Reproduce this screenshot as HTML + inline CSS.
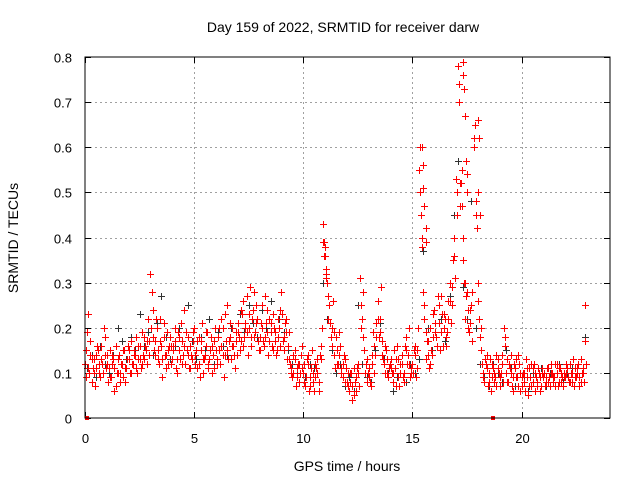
<!DOCTYPE html>
<html><head><meta charset="utf-8">
<style>
html,body{margin:0;padding:0;background:#fff;}
svg{display:block;font-family:"Liberation Sans",sans-serif;}
</style></head>
<body>
<svg id="chart" width="640" height="480" viewBox="0 0 640 480">
<text x="343" y="32" text-anchor="middle" font-size="14">Day 159 of 2022, SRMTID for receiver darw</text>
<text x="347" y="471" text-anchor="middle" font-size="14">GPS time / hours</text>
<text transform="translate(18,238) rotate(-90)" text-anchor="middle" font-size="14">SRMTID / TECUs</text>
<g id="grid"></g>
<g id="ticks"></g>
<g id="marks"></g>
<rect x="85" y="57" width="525" height="361" fill="none" stroke="#000" stroke-width="1"/>
</svg>
<script>
const xTicks=[0,5,10,15,20];
const yTicks=[0,0.1,0.2,0.3,0.4,0.5,0.6,0.7,0.8];
const redA=[0.12,0.19,0.10,0.08,0.13,0.11,0.15,0.09,0.12,0.18,
0.14,0.11,0.09,0.13,0.16,0.10,0.08,0.12,0.15,0.11,
0.13,0.17,0.12,0.14,0.10,0.16,0.19,0.13,0.15,0.22,
0.32,0.18,0.14,0.20,0.12,0.16,0.21,0.11,0.15,0.18,
0.13,0.17,0.10,0.15,0.21,0.14,0.12,0.18,0.16,0.13,
0.20,0.15,0.12,0.17,0.10,0.14,0.19,0.13,0.16,0.11,
0.15,0.18,0.12,0.20,0.14,0.25,0.17,0.13,0.16,0.19,
0.21,0.15,0.23,0.18,0.27,0.20,0.16,0.24,0.19,0.22,
0.18,0.25,0.16,0.21,0.14,0.19,0.23,0.17,0.15,0.20,
0.28,0.18,0.22,0.16,0.12,0.09,0.13,0.11,0.08,0.14,
0.10,0.07,0.12,0.09,0.15,0.06,0.11,0.08,0.13,0.43,
0.38,0.30,0.25,0.20,0.14,0.18,0.12,0.16,0.09,0.13,
0.08,0.06,0.10,0.05,0.09,0.12,0.31,0.22,0.15,0.08,
0.11,0.07,0.19,0.14,0.26,0.22,0.17,0.12,0.15,0.09,
0.13,0.08,0.11,0.16,0.07,0.12,0.10,0.18,0.14,0.09,
0.12,0.16,0.11,0.55,0.45,0.28,0.13,0.17,0.20,0.14,
0.24,0.18,0.21,0.27,0.16,0.22,0.19,0.30,0.25,0.40,
0.53,0.78,0.47,0.35,0.22,0.28,0.19,0.25,0.60,0.48,
0.30,0.18,0.12,0.08,0.14,0.10,0.06,0.11,0.09,0.13,
0.07,0.12,0.20,0.10,0.08,0.14,0.06,0.11,0.09,0.12,
0.07,0.10,0.13,0.05,0.09,0.11,0.06,0.08,0.10,0.07,
0.09,0.08,0.11,0.07,0.10,0.09,0.12,0.08,0.10,0.07,
0.09,0.11,0.08,0.10,0.07,0.09,0.12,0.08,0.10,0.25];
const redB=[0.09,0.23,0.14,0.11,0.07,0.16,0.10,0.13,0.20,0.11,
0.08,0.15,0.12,0.06,0.10,0.14,0.12,0.09,0.11,0.16,
0.10,0.12,0.15,0.18,0.13,0.11,0.14,0.16,0.12,0.17,
0.28,0.15,0.22,0.13,0.17,0.09,0.14,0.19,0.16,0.12,
0.16,0.11,0.19,0.13,0.17,0.24,0.15,0.11,0.14,0.19,
0.12,0.17,0.09,0.21,0.13,0.16,0.11,0.18,0.14,0.20,
0.12,0.15,0.22,0.09,0.17,0.13,0.21,0.16,0.11,0.14,
0.18,0.24,0.16,0.20,0.14,0.29,0.22,0.18,0.25,0.15,
0.21,0.17,0.27,0.19,0.22,0.16,0.20,0.14,0.18,0.24,
0.17,0.21,0.13,0.19,0.10,0.14,0.07,0.12,0.10,0.16,
0.08,0.13,0.06,0.11,0.08,0.12,0.10,0.14,0.20,0.36,
0.32,0.22,0.18,0.26,0.11,0.15,0.19,0.10,0.14,0.11,
0.07,0.10,0.04,0.08,0.11,0.07,0.25,0.18,0.12,0.10,
0.08,0.14,0.10,0.21,0.18,0.29,0.13,0.16,0.10,0.12,
0.10,0.15,0.07,0.13,0.10,0.09,0.16,0.12,0.20,0.11,
0.15,0.09,0.20,0.60,0.38,0.22,0.17,0.11,0.15,0.23,
0.19,0.27,0.15,0.23,0.20,0.16,0.26,0.21,0.35,0.31,
0.45,0.70,0.55,0.30,0.27,0.20,0.24,0.17,0.65,0.42,
0.22,0.15,0.09,0.12,0.07,0.13,0.09,0.08,0.14,0.10,
0.10,0.08,0.16,0.13,0.11,0.07,0.12,0.09,0.14,0.06,
0.10,0.06,0.09,0.11,0.07,0.12,0.09,0.11,0.06,0.10,
0.07,0.11,0.09,0.10,0.08,0.12,0.07,0.11,0.09,0.10,
0.12,0.08,0.10,0.13,0.09,0.11,0.07,0.10,0.08,0.12];
const redC=[0.15,0.11,0.17,0.13,0.10,0.14,0.12,0.16,0.10,0.14,
0.12,0.09,0.14,0.11,0.07,0.13,0.10,0.15,0.08,0.13,
0.15,0.10,0.14,0.11,0.16,0.13,0.12,0.18,0.17,0.14,
0.20,0.24,0.17,0.15,0.22,0.13,0.18,0.14,0.12,0.16,
0.15,0.20,0.13,0.18,0.12,0.16,0.19,0.14,0.11,0.17,
0.14,0.11,0.18,0.15,0.13,0.19,0.12,0.15,0.10,0.17,
0.13,0.20,0.16,0.14,0.23,0.15,0.18,0.20,0.14,0.17,
0.19,0.17,0.26,0.21,0.19,0.23,0.18,0.28,0.21,0.17,
0.15,0.20,0.18,0.24,0.17,0.21,0.15,0.19,0.22,0.16,
0.23,0.15,0.19,0.13,0.11,0.10,0.15,0.09,0.12,0.11,
0.12,0.09,0.14,0.07,0.10,0.09,0.13,0.06,0.16,0.39,
0.33,0.27,0.21,0.16,0.19,0.12,0.14,0.11,0.12,0.08,
0.10,0.08,0.07,0.11,0.06,0.10,0.20,0.28,0.10,0.13,
0.09,0.12,0.16,0.18,0.22,0.19,0.14,0.10,0.13,0.11,
0.11,0.10,0.13,0.09,0.12,0.14,0.08,0.15,0.12,0.10,
0.10,0.14,0.15,0.50,0.40,0.25,0.19,0.14,0.12,0.18,
0.21,0.16,0.25,0.19,0.23,0.18,0.22,0.26,0.29,0.36,
0.50,0.74,0.52,0.40,0.30,0.24,0.21,0.28,0.62,0.45,
0.26,0.20,0.10,0.13,0.11,0.08,0.12,0.10,0.07,0.11,
0.09,0.14,0.18,0.08,0.12,0.10,0.09,0.13,0.07,0.10,
0.09,0.08,0.11,0.07,0.12,0.08,0.10,0.07,0.09,0.11,
0.10,0.09,0.08,0.12,0.09,0.07,0.10,0.11,0.08,0.09,
0.10,0.09,0.12,0.08,0.11,0.10,0.09,0.13,0.11,0.17];
const spikeT=[10.9,10.95,11.0,11.05,15.45,15.5,15.5,15.55,15.6,15.6,17.2,17.25,17.3,17.3,17.35,17.4,17.45,17.5,17.5,18.0,18.05,18.0,18.1];
const spikeV=[0.43,0.39,0.36,0.31,0.60,0.56,0.51,0.47,0.42,0.39,0.52,0.47,0.79,0.76,0.73,0.67,0.57,0.54,0.50,0.66,0.62,0.50,0.45];
const black=[0.11,0.14,0.09,0.16,0.12,0.10,0.14,0.20,0.17,0.13,0.18,0.15,0.23,0.16,0.19,0.14,0.21,0.27,0.18,0.13,
0.16,0.20,0.14,0.25,0.17,0.13,0.18,0.15,0.22,0.12,0.19,0.16,0.14,0.20,0.17,0.23,0.19,0.25,0.21,0.18,
0.24,0.20,0.26,0.17,0.22,0.19,0.15,0.12,0.10,0.14,0.09,0.12,0.11,0.08,0.30,0.22,0.15,0.10,0.12,0.07,
0.09,0.06,0.25,0.12,0.09,0.08,0.15,0.21,0.13,0.10,0.06,0.09,0.14,0.08,0.12,0.10,0.13,0.37,0.20,0.15,
0.18,0.22,0.17,0.27,0.45,0.57,0.29,0.22,0.48,0.20,0.12,0.09,0.07,0.12,0.10,0.08,0.15,0.11,0.07,0.12,
0.09,0.06,0.10,0.08,0.11,0.07,0.10,0.09,0.12,0.08,0.10,0.11,0.09,0.13,0.18];
const hiddenT=[0.1,18.7];
const hiddenV=[0,0];
const X=t=>85+t*(525/24.05);
const Y=v=>418-v*(361/0.8);
const NS="http://www.w3.org/2000/svg";
const grid=document.getElementById('grid'),ticks=document.getElementById('ticks'),marks=document.getElementById('marks');
function ln(g,x1,y1,x2,y2,st,da){const l=document.createElementNS(NS,'line');l.setAttribute('x1',x1);l.setAttribute('y1',y1);l.setAttribute('x2',x2);l.setAttribute('y2',y2);l.setAttribute('stroke',st);if(da)l.setAttribute('stroke-dasharray',da);g.appendChild(l);return l;}
function tx(g,x,y,s,anc){const t=document.createElementNS(NS,'text');t.setAttribute('x',x);t.setAttribute('y',y);t.setAttribute('text-anchor',anc);t.setAttribute('font-size','13');t.textContent=s;g.appendChild(t);return t;}
xTicks.forEach(v=>{const x=Math.round(X(v))+0.5;
 if(v>0){const g=ln(grid,x,57,x,418,'#a0a0a0','2,3');
 
 }
 ln(ticks,x,418,x,412,'#000');ln(ticks,x,57,x,63,'#000');
 const t=tx(ticks,x,443,String(v),'middle');
 
 });
yTicks.forEach(v=>{const y=Math.round(Y(v))+0.5;
 if(v>0&&v<0.8){const g=ln(grid,85,y,610,y,'#a0a0a0','2,3');
 
 }
 ln(ticks,85,y,91,y,'#000');ln(ticks,610,y,604,y,'#000');
 const t=tx(ticks,72,y+5,v===0?'0':v.toFixed(1),'end');
 
 });
function plus(t,v,c,name){const x=Math.round(X(t))+0.5,y=Math.round(Y(v))+0.5;
 const p=document.createElementNS(NS,'path');
 p.setAttribute('d',`M${x-3.5} ${y}H${x+3.5}M${x} ${y-3.5}V${y+3.5}`);
 p.setAttribute('stroke',c);p.setAttribute('fill','none');
 
 
 marks.appendChild(p);}
black.forEach((v,i)=>plus(i*0.2+0.1,v,'#333','black-point'));
redA.forEach((v,i)=>plus(i*0.1,v,'#f00','red-point'));
redB.forEach((v,i)=>plus(i*0.1+0.05,v,'#f00','red-point'));
redC.forEach((v,i)=>plus(i*0.1+0.025,v,'#f00','red-point'));
spikeT.forEach((t,i)=>plus(t,spikeV[i],'#f00','red-spike-point'));
hiddenT.forEach((t,i)=>{const r=document.createElementNS(NS,'rect');
 r.setAttribute('x',Math.round(X(t))-2);r.setAttribute('y',Y(hiddenV[i])-2);r.setAttribute('width',4);r.setAttribute('height',4);r.setAttribute('fill','#f00');
 
 
 marks.appendChild(r);});
</script>
</body></html>
